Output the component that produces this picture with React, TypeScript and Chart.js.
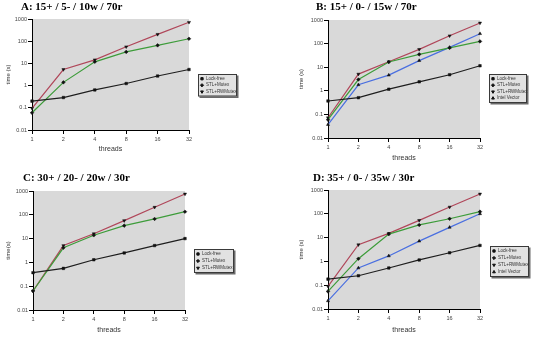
import { useEffect, useRef } from "react";
import { Chart, registerables } from "chart.js";
import { drawPoint } from "chart.js/helpers";

Chart.register(...registerables);

// Shared axes
const threads = ["1", "2", "4", "8", "16", "32"];
const timeTicks = [0.01, 0.1, 1, 10, 100, 1000];
const seriesNames = ["Lock-free", "STL+Mutex", "STL+RWMutex", "Intel Vector"];

// A: 15+ / 5- / 10w / 70r
const aLockFree = [0.2, 0.29, 0.64, 1.24, 2.7, 5.3];
const aMutex = [0.06, 1.4, 11.8, 33, 65, 129];
const aRWMutex = [0.095, 5.3, 14.5, 56, 204, 710];

// B: 15+ / 0- / 15w / 70r
const bLockFree = [0.37, 0.51, 1.17, 2.4, 4.8, 11.5];
const bMutex = [0.06, 3.0, 16.6, 35, 66, 124];
const bRWMutex = [0.072, 5.1, 17, 57, 214, 750];
const bIntel = [0.037, 1.8, 4.6, 19, 69, 263];

// C: 30+ / 20- / 20w / 30r
const cLockFree = [0.37, 0.56, 1.29, 2.5, 5.1, 10];
const cMutex = [0.063, 4.1, 13.8, 35, 67, 135];
const cRWMutex = [0.063, 5.1, 16, 57, 208, 750];

// D: 35+ / 0- / 35w / 30r
const dLockFree = [0.18, 0.25, 0.53, 1.15, 2.3, 4.7];
const dMutex = [0.055, 1.3, 14, 34, 62, 123];
const dRWMutex = [0.09, 5.0, 15, 53, 192, 680];
const dIntel = [0.022, 0.53, 1.7, 7.1, 27, 100];

const SANS = "'Liberation Sans', Arial, sans-serif";
const SERIF = "'Liberation Serif', 'Times New Roman', serif";

const seriesStyle = [
  { color: "#1e1e1e", pointStyle: "rect", rotation: 0 },
  { color: "#3d9c3a", pointStyle: "rectRot", rotation: 0 },
  { color: "#b0475a", pointStyle: "triangle", rotation: 180 },
  { color: "#4a6fe0", pointStyle: "triangle", rotation: 0 },
];

// Grey plotting area behind the lines
const plotBackground = {
  id: "plotBackground",
  beforeDraw(chart: any) {
    const { ctx, chartArea } = chart;
    ctx.save();
    ctx.fillStyle = "#d9d9d9";
    ctx.fillRect(chartArea.left, chartArea.top, chartArea.right - chartArea.left, chartArea.bottom - chartArea.top);
    ctx.restore();
  },
};

// Bold serif heading above each panel
const panelTitle = {
  id: "panelTitle",
  afterDraw(chart: any, _args: any, opts: any) {
    const { ctx } = chart;
    ctx.save();
    ctx.font = `bold 11px ${SERIF}`;
    ctx.fillStyle = "#000";
    ctx.textAlign = "left";
    ctx.textBaseline = "middle";
    ctx.fillText(opts.text, opts.x, opts.y);
    ctx.restore();
  },
};

// Framed legend with a drop shadow, to the right of the plot
const boxLegend = {
  id: "boxLegend",
  afterDraw(chart: any, _args: any, opts: any) {
    const { ctx } = chart;
    const datasets = chart.data.datasets;
    const { x, y, w, rowH } = opts;
    const h = datasets.length * rowH + 3;
    ctx.save();
    ctx.fillStyle = "#6a6a6a";
    ctx.fillRect(x + 1.5, y + 1.5, w, h);
    ctx.fillStyle = "#e2e2e2";
    ctx.fillRect(x, y, w, h);
    ctx.strokeStyle = "#3a3a3a";
    ctx.lineWidth = 1;
    ctx.strokeRect(x + 0.5, y + 0.5, w - 1, h - 1);
    ctx.font = `4.5px ${SANS}`;
    ctx.textAlign = "left";
    ctx.textBaseline = "middle";
    datasets.forEach((ds: any, i: number) => {
      const cy = y + 1.5 + rowH * (i + 0.5);
      ctx.fillStyle = "#111";
      ctx.strokeStyle = "#111";
      drawPoint(ctx, { pointStyle: ds.pointStyle, rotation: ds.pointRotation, radius: 1.6, borderWidth: 0.5 } as any, x + 4, cy);
      ctx.fillStyle = "#333";
      ctx.fillText(ds.label, x + 8, cy);
    });
    ctx.restore();
  },
};

type PanelSpec = {
  title: string;
  titleX: number;
  titleY: number;
  yLabel: string;
  series: number[][];
  left: number;
  top: number;
  width: number;
  height: number;
  yWidth: number;
  xHeight: number;
  padTop: number;
  padRight: number;
  yTitlePad: number;
  xTitlePad: number;
  legend: { x: number; y: number; w: number; rowH: number };
};

function Panel({ spec }: { spec: PanelSpec }) {
  const ref = useRef<HTMLCanvasElement | null>(null);

  useEffect(() => {
    if (!ref.current) return;
    const datasets = spec.series.map((values, i) => ({
      label: seriesNames[i],
      data: values,
      borderColor: seriesStyle[i].color,
      backgroundColor: "#111",
      borderWidth: 1.2,
      pointStyle: seriesStyle[i].pointStyle,
      pointRotation: seriesStyle[i].rotation,
      pointRadius: 1.8,
      pointBorderColor: "#111",
      pointBackgroundColor: "#111",
      pointBorderWidth: 0.5,
      tension: 0,
    }));

    const chart = new Chart(ref.current, {
      type: "line",
      data: { labels: threads, datasets },
      plugins: [plotBackground, panelTitle, boxLegend],
      options: {
        responsive: false,
        animation: false,
        devicePixelRatio: 1,
        layout: { padding: { top: spec.padTop, right: spec.padRight, left: 0, bottom: 0 } },
        plugins: {
          legend: { display: false },
          tooltip: { enabled: false },
          panelTitle: { text: spec.title, x: spec.titleX, y: spec.titleY },
          boxLegend: spec.legend,
        } as any,
        scales: {
          x: {
            type: "category",
            offset: false,
            afterFit: (s: any) => {
              s.height = spec.xHeight;
            },
            grid: { drawOnChartArea: false, drawTicks: true, tickLength: 4, color: "#000" },
            border: { color: "#000", width: 1 },
            ticks: { font: { size: 5.5, family: SANS }, color: "#444", padding: 2, maxRotation: 0, autoSkip: false },
            title: {
              display: true,
              text: "threads",
              font: { size: 7, family: SANS },
              color: "#333",
              padding: { top: 0, bottom: spec.xTitlePad },
            },
          },
          y: {
            type: "logarithmic",
            min: 0.01,
            max: 1000,
            afterBuildTicks: (s: any) => {
              s.ticks = timeTicks.map((v) => ({ value: v }));
            },
            afterFit: (s: any) => {
              s.width = spec.yWidth;
            },
            grid: { drawOnChartArea: false, drawTicks: true, tickLength: 4, color: "#000" },
            border: { color: "#000", width: 1 },
            ticks: {
              font: { size: 5.5, family: SANS },
              color: "#444",
              padding: 1,
              autoSkip: false,
              callback: (v: any) => String(v),
            },
            title: {
              display: true,
              text: spec.yLabel,
              font: { size: 6, family: SANS },
              color: "#333",
              padding: { top: spec.yTitlePad, bottom: 0 },
            },
          },
        },
      } as any,
    });
    return () => chart.destroy();
  }, [spec]);

  return (
    <canvas
      ref={ref}
      width={spec.width}
      height={spec.height}
      style={{ position: "absolute", left: spec.left, top: spec.top, width: spec.width, height: spec.height }}
    />
  );
}

const panels: PanelSpec[] = [
  {
    title: "A: 15+ / 5- / 10w / 70r",
    titleX: 21,
    titleY: 7,
    yLabel: "time (s)",
    series: [aLockFree, aMutex, aRWMutex],
    left: 0,
    top: 0,
    width: 267,
    height: 170,
    yWidth: 32,
    xHeight: 40,
    padTop: 19,
    padRight: 78,
    yTitlePad: 4.5,
    xTitlePad: 16.8,
    legend: { x: 198, y: 74, w: 39, rowH: 6.5 },
  },
  {
    title: "B: 15+ / 0- / 15w / 70r",
    titleX: 49,
    titleY: 7,
    yLabel: "time (s)",
    series: [bLockFree, bMutex, bRWMutex, bIntel],
    left: 267,
    top: 0,
    width: 267,
    height: 170,
    yWidth: 61,
    xHeight: 32,
    padTop: 20,
    padRight: 54,
    yTitlePad: 31,
    xTitlePad: 7.8,
    legend: { x: 222, y: 74, w: 38, rowH: 6.5 },
  },
  {
    title: "C: 30+ / 20- / 20w / 30r",
    titleX: 23,
    titleY: 8,
    yLabel: "time(s)",
    series: [cLockFree, cMutex, cRWMutex],
    left: 0,
    top: 170,
    width: 267,
    height: 171,
    yWidth: 33,
    xHeight: 31,
    padTop: 21,
    padRight: 82,
    yTitlePad: 4.5,
    xTitlePad: 6.8,
    legend: { x: 194, y: 79, w: 40, rowH: 7 },
  },
  {
    title: "D: 35+ / 0- / 35w / 30r",
    titleX: 46,
    titleY: 8,
    yLabel: "time (s)",
    series: [dLockFree, dMutex, dRWMutex, dIntel],
    left: 267,
    top: 170,
    width: 267,
    height: 171,
    yWidth: 61,
    xHeight: 32,
    padTop: 20,
    padRight: 54,
    yTitlePad: 31,
    xTitlePad: 6.8,
    legend: { x: 223, y: 76, w: 39, rowH: 7 },
  },
];

export default function App() {
  return (
    <div style={{ position: "absolute", left: 0, top: 0, width: 534, height: 341, background: "#fff", overflow: "hidden" }}>
      {panels.map((p) => (
        <Panel key={p.title} spec={p} />
      ))}
    </div>
  );
}
